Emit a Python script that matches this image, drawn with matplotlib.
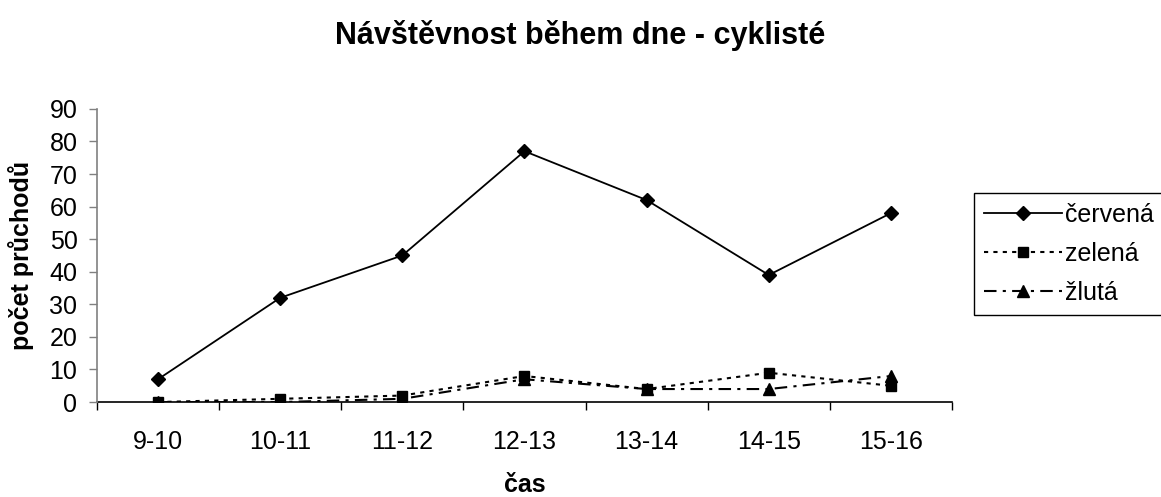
import matplotlib.pyplot as plt
import numpy as np

plt.rcParams['font.family'] = ['Liberation Sans', 'DejaVu Sans']

# data
casy = ["9-10", "10-11", "11-12", "12-13", "13-14", "14-15", "15-16"]
cervena = [7, 32, 45, 77, 62, 39, 58]
zelena = [0, 1, 2, 8, 4, 9, 5]
zluta = [0, 0, 1, 7, 4, 4, 8]

fig = plt.figure(figsize=(11.61, 4.97), dpi=100)
ax = fig.add_axes([0.0835, 0.191, 0.7365, 0.59])

x = np.arange(len(casy))
ax.plot(x, cervena, color='black', lw=1.3, marker='D', ms=7, label='červená')
ax.plot(x, zelena, color='black', lw=1.5, ls=(0, (2, 2.5)), marker='s', ms=7, label='zelená')
ax.plot(x, zluta, color='black', lw=1.5, ls=(0, (6, 3, 1.5, 3)), marker='^', ms=8, label='žlutá')

ax.set_xlim(-0.5, len(casy) - 0.5)
ax.set_ylim(0, 90)
ax.set_yticks(np.arange(0, 91, 10))

# category boundaries get the tick marks, labels sit in the middle
ax.set_xticks(np.arange(-0.5, len(casy), 1.0))
ax.set_xticklabels([])
ax.set_xticks(x, minor=True)
ax.set_xticklabels(casy, minor=True)
ax.tick_params(axis='x', which='major', length=6, width=1, direction='out', color='black')
ax.tick_params(axis='x', which='minor', length=0, pad=20, labelsize=18)
ax.tick_params(axis='y', length=6, width=1, direction='out', color='#808080', labelsize=18, pad=8)

ax.spines['top'].set_visible(False)
ax.spines['right'].set_visible(False)
ax.spines['left'].set_color('#808080')
ax.spines['left'].set_linewidth(1.2)
ax.spines['bottom'].set_color('black')
ax.spines['bottom'].set_linewidth(1.2)
ax.spines['bottom'].set_zorder(1)

ax.set_xlabel('čas', fontsize=18, fontweight='bold', labelpad=14)
ax.set_ylabel('počet průchodů', fontsize=18, fontweight='bold', labelpad=11)
fig.suptitle('Návštěvnost během dne - cyklisté', fontsize=22, fontweight='bold', x=0.5, y=0.96)

leg = fig.legend(loc='upper left', bbox_to_anchor=(0.839, 0.612), fontsize=18, handlelength=3.1,
                 handletextpad=0.15, numpoints=1, fancybox=False, framealpha=1, borderpad=0.4,
                 labelspacing=0.6, borderaxespad=0)
leg.get_frame().set_edgecolor('black')
leg.get_frame().set_linewidth(1)

fig.savefig('out.png', dpi=100)
